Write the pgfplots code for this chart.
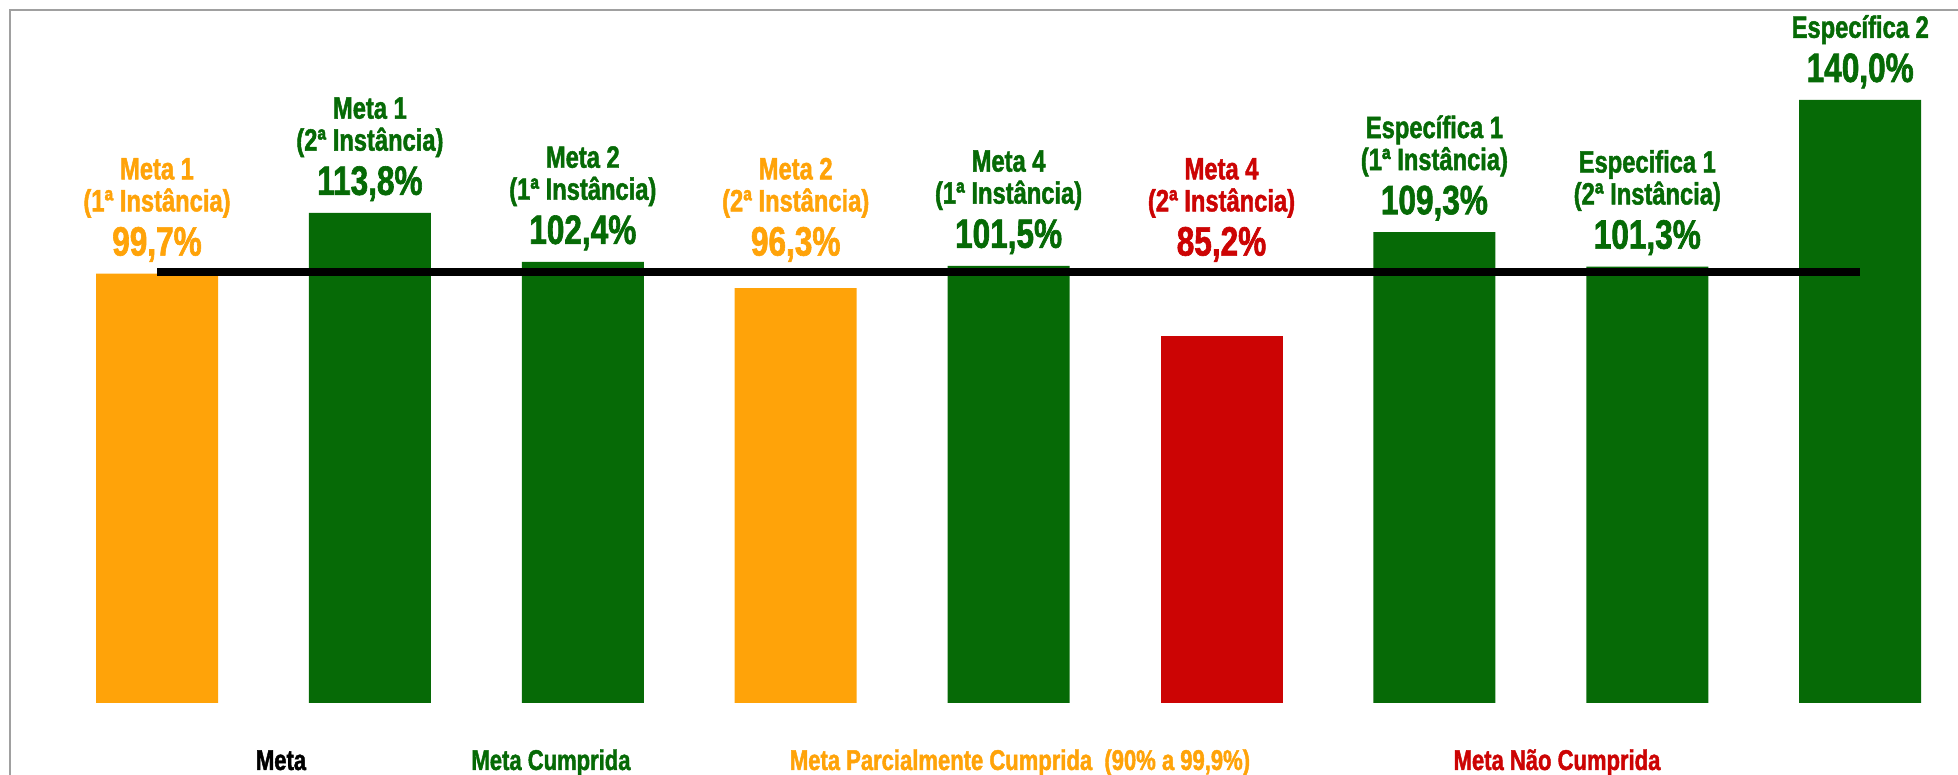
\documentclass[border=0pt]{standalone}
\usepackage{pgfplots}
\pgfplotsset{compat=1.18}
\usepackage{pgfplotstable}
\usepackage{fontspec}
\setmainfont{Liberation Sans}
\newfontfamily\condfont{Liberation Sans}[FakeStretch=0.77,FakeBold=1.5]
\newcommand\namefont{\condfont\bfseries\fontsize{15.4pt}{16pt}\selectfont}
\newcommand\valfont{\condfont\bfseries\fontsize{20.5pt}{22pt}\selectfont}
\newcommand\legfont{\condfont\bfseries\fontsize{14.3pt}{15pt}\selectfont}

\definecolor{cOr}{RGB}{255,163,9}
\definecolor{cGr}{RGB}{6,106,6}
\definecolor{cRd}{RGB}{204,4,4}
\definecolor{cFrame}{RGB}{160,160,160}

\pgfplotstableread[col sep=semicolon]{
x;y;ly;name
0;99.7;99.7;Meta 1\\(1ª Instância)
3;96.3;99.7;Meta 2\\(2ª Instância)
}\orangedata

\pgfplotstableread[col sep=semicolon]{
x;y;ly;name
1;113.8;113.8;Meta 1\\(2ª Instância)
2;102.4;102.4;Meta 2\\(1ª Instância)
4;101.5;101.5;Meta 4\\(1ª Instância)
6;109.3;109.3;Específica 1\\(1ª Instância)
7;101.3;101.3;Especifica 1\\(2ª Instância)
8;140.0;140.0;Específica 2
}\greendata

\pgfplotstableread[col sep=semicolon]{
x;y;ly;name
5;85.2;99.7;Meta 4\\(2ª Instância)
}\reddata

\pgfplotstableread[col sep=semicolon]{
x;y
0;100
1;100
2;100
3;100
4;100
5;100
6;100
7;100
8;100
}\metadata

\newcommand\bargroup[2]{%
  \addplot[ybar, bar shift=0pt, bar width=61pt, fill=#2, draw=none, forget plot]
    table[x=x, y=y] {#1};
}
\newcommand\labelgroup[2]{%
  \addplot[draw=none, mark=none, forget plot, point meta=explicit,
    nodes near coords={\valfont\pgfmathprintnumber[fixed, fixed zerofill, precision=1, use comma, assume math mode=true]{\pgfplotspointmeta}\%},
    every node near coord/.append style={anchor=base, text=#2, inner sep=0pt, yshift=9pt}]
    table[x=x, y=ly, meta=y] {#1};
  \addplot[draw=none, mark=none, forget plot, point meta=explicit symbolic,
    nodes near coords={\pgfplotspointmeta},
    every node near coord/.append style={anchor=south, align=center, font=\namefont, text=#2, inner sep=0pt, yshift=27.7pt}]
    table[x=x, y=ly, meta=name] {#1};
}

\begin{document}
\begin{tikzpicture}
\begin{axis}[
  x=106.45pt, y=2.1536pt,
  xmin=-0.6, xmax=8.6, ymin=0, ymax=160,
  hide axis, clip=false,
  at={(14.63pt,36pt)}, anchor=south west,
]
\bargroup{\orangedata}{cOr}
\bargroup{\greendata}{cGr}
\bargroup{\reddata}{cRd}
\addplot[black, line width=4pt, mark=none, forget plot] table[x=x, y=y] {\metadata};
\labelgroup{\orangedata}{cOr}
\labelgroup{\greendata}{cGr}
\labelgroup{\reddata}{cRd}
\end{axis}
\draw[cFrame, line width=0.75pt] (5pt,-2pt) -- (5pt,382.5pt) -- (985pt,382.5pt);
\node[anchor=base, font=\legfont, text=black, inner sep=0pt] at (140.5pt,2.5pt) {Meta};
\node[anchor=base, font=\legfont, text=cGr, inner sep=0pt] at (275.5pt,2.5pt) {Meta Cumprida};
\node[anchor=base, font=\legfont, text=cOr, inner sep=0pt] at (510pt,2.5pt) {Meta Parcialmente Cumprida\ \ (90\% a 99,9\%)};
\node[anchor=base, font=\legfont, text=cRd, inner sep=0pt] at (778.5pt,2.5pt) {Meta Não Cumprida};
\pgfresetboundingbox
\path[use as bounding box] (0,0) rectangle (979pt,387.5pt);
\end{tikzpicture}
\end{document}
